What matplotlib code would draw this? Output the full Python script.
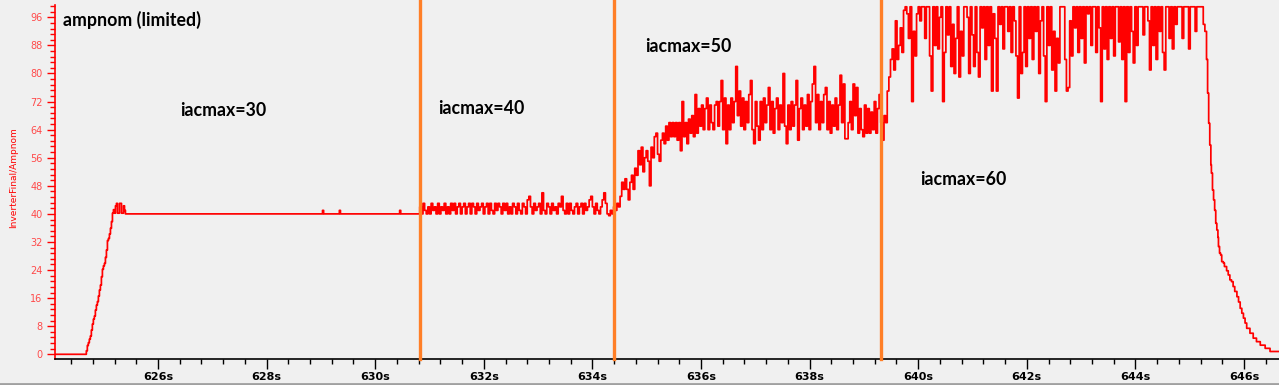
import matplotlib
matplotlib.use('Agg')
import matplotlib.pyplot as plt
import numpy as np
from matplotlib.ticker import MultipleLocator, FuncFormatter
from matplotlib.lines import Line2D

# ---------------- data ----------------
zero_t = [624.10]
zero_v = [0.0]

rise_t0, rise_dt = 624.68, 0.0185
rise_v = [1.0, 2.5, 3.3, 4.3, 5.2, 6.9, 8.6, 10.0, 10.9, 12.6, 14.0, 15.0, 16.6, 18.3,
          19.7, 22.1, 24.2, 25.2, 25.9, 27.6, 29.7, 32.4, 33.0, 34.3, 35.9, 37.8, 40.2,
          41.2, 40.2, 42.3, 43.0, 40.2, 40.2, 43.0, 43.0, 40.2, 40.2, 42.3, 41.0]

flat_t = [625.40, 629.03, 629.05, 629.34, 629.36, 630.45, 630.47]
flat_v = [40, 41, 40, 41, 40, 41, 40]

n40_t0, n40_dt = 630.82, 0.03
n40_v = [42, 40, 43, 41, 40, 42, 40, 43, 41, 42,
         40, 43, 40, 42, 41, 43, 40, 42, 40, 43,
         41, 43, 40, 42, 43, 40, 42, 43, 40, 42,
         43, 40, 43, 42, 40, 43, 41, 42, 43, 40,
         42, 43, 40, 43, 41, 40, 43, 41, 43, 42,
         40, 43, 41, 43, 40, 42, 40, 43, 42, 40,
         43, 41, 40, 43, 42, 40, 44, 45, 42, 40,
         43, 41, 42, 43, 40, 46, 41, 40, 43, 42,
         40, 43, 41, 42, 40, 43, 42, 45, 41, 40,
         43, 40, 43, 41, 40, 42, 43, 40, 42, 43,
         40, 43, 41, 42, 44, 45, 42, 40, 43, 41,
         40, 42, 44, 46, 43, 40, 39.5, 41, 40, 42]

n50_t0, n50_dt = 634.42, 0.03
n50_v = [41, 43, 42, 45, 49, 47, 50, 47, 44, 49,
         51, 47, 53, 51, 58, 54, 59, 52, 56, 58,
         55, 48, 59, 56, 62, 63, 57, 55, 61, 63,
         60, 65, 61, 66, 62, 66, 62, 66, 61, 66,
         58, 72, 62, 66, 60, 67, 63, 68, 62, 74,
         63, 70, 65, 71, 64, 70, 73, 64, 71, 66,
         64, 71, 72, 65, 72, 78, 64, 73, 60, 71,
         64, 73, 66, 72, 82, 68, 75, 65, 73, 64,
         72, 66, 74, 78, 64, 60, 72, 65, 61, 72,
         64, 73, 66, 71, 76, 64, 72, 63, 70, 73,
         64, 71, 66, 80, 65, 60, 71, 64, 72, 65,
         71, 78, 61, 70, 73, 64, 71, 65, 74, 64,
         72, 77, 82, 66, 74, 64, 72, 66, 74, 76,
         64, 72, 63, 71, 65, 73, 64, 71, 79.5, 66,
         77, 61.4, 61.4, 66, 72, 64, 77, 68, 76, 63,
         70, 64, 62, 71, 63, 70, 63, 69, 64, 72,
         63, 70, 74]

n60_t0, n60_dt = 639.31, 0.03
n60_v = [66, 61, 68, 66, 75, 79, 84, 87, 81, 95,
         84, 88, 93, 86, 98, 99, 97, 90, 99, 72,
         92, 85, 97, 99, 95, 99, 99, 90, 99, 99,
         85, 75, 99, 88, 99, 87, 96, 99, 72, 86,
         99, 91, 99, 82, 94, 80, 90, 99, 79, 92,
         85, 99, 99, 96, 80, 99, 91, 82, 99, 86,
         79, 99, 93, 99, 84, 99, 88, 99, 75, 97,
         90, 75, 99, 94, 99, 87, 99, 99, 92, 99,
         86, 99, 95, 85, 73, 99, 80, 86, 99, 82,
         99, 90, 99, 84, 99, 92, 99, 80, 95, 99,
         85, 72, 99, 88, 99, 81, 92, 75, 90, 83,
         99, 99, 99, 84, 75, 76, 95, 85, 99, 93,
         99, 86, 99, 90, 99, 83, 99, 97, 99, 88,
         99, 99, 86, 99, 93, 72, 99, 87, 99, 84,
         99, 90, 99, 85, 99, 99, 89, 99, 84, 99,
         72, 99, 86, 99, 92, 83, 99, 88, 99, 99,
         99, 91, 99, 99, 95, 81, 99, 88, 99, 84,
         99, 92, 99, 86, 81, 99, 99, 90, 99, 87,
         99, 94, 99, 99, 99, 90, 99, 99, 99, 87,
         99, 99, 99, 92, 99, 99, 99, 99]

decay_t = [645.25, 645.28, 645.31, 645.33, 645.35, 645.37, 645.39, 645.40, 645.42,
           645.44, 645.46, 645.48, 645.50, 645.52, 645.53, 645.55, 645.57, 645.59,
           645.62, 645.64, 645.68, 645.71, 645.74, 645.77, 645.80, 645.83, 645.87,
           645.90, 645.93, 645.96, 645.99, 646.02, 646.05, 646.11, 646.17, 646.23,
           646.30, 646.39, 646.48, 646.645]
decay_v = [94, 92, 84, 74.4, 65.8, 59.6, 54, 51.6, 46.8, 44, 41, 37.3, 35.4, 33.3, 30.7,
           28.8, 28.3, 26.4, 26, 25, 23.8, 22.6, 21.2, 20.7, 19.3, 17.9, 16.4, 14.9,
           13.1, 11.7, 10.3, 8.9, 7.4, 6, 4.6, 3.6, 2.6, 1.7, 0.8, 0.8]

change_t = [630.82, 634.40, 639.31]
iacmax_labels = ["iacmax=30", "iacmax=40", "iacmax=50", "iacmax=60"]
title = "ampnom (limited)"
ylabel = "InverterFinal/Ampnom"

# ---------------- assemble series ----------------
def seg(t0, dt, vals):
    return list(t0 + dt * np.arange(len(vals))), list(vals)

parts = [(zero_t, zero_v), seg(rise_t0, rise_dt, rise_v), (flat_t, flat_v),
         seg(n40_t0, n40_dt, n40_v), seg(n50_t0, n50_dt, n50_v),
         seg(n60_t0, n60_dt, n60_v), (decay_t, decay_v)]
T = np.concatenate([np.asarray(p[0], float) for p in parts])
V = np.concatenate([np.asarray(p[1], float) for p in parts])

# ---------------- figure ----------------
W, H = 1279, 385
BG = '#f0f0f0'
fig = plt.figure(figsize=(W / 100, H / 100), dpi=100, facecolor=BG)
ax = fig.add_axes([55 / W, (H - 359) / H, (W - 55) / W, (359 - 5) / H])
ax.set_facecolor(BG)

ax.plot(T, V, drawstyle='steps-post', color='#ff0000', lw=1.25)

ax.set_xlim(624.103, 646.645)
ax.set_ylim(-1.34, 99.51)

for s in ['top', 'right']:
    ax.spines[s].set_visible(False)
ax.spines['left'].set_color('#ff0000')
ax.spines['left'].set_linewidth(1.2)
ax.spines['bottom'].set_color('black')
ax.spines['bottom'].set_linewidth(1.2)

ax.yaxis.set_major_locator(MultipleLocator(8))
ax.yaxis.set_minor_locator(MultipleLocator(1.6))
ax.xaxis.set_major_locator(MultipleLocator(2))
ax.xaxis.set_minor_locator(MultipleLocator(0.4))
ax.xaxis.set_major_formatter(FuncFormatter(lambda x, p: f"{x:.0f}s"))
ax.yaxis.set_major_formatter(FuncFormatter(lambda y, p: f"{y:.0f}"))

ax.tick_params(axis='y', which='major', colors='#ff0000', labelcolor='#ff4a4a',
               length=6, width=1, labelsize=7, pad=3)
ax.tick_params(axis='y', which='minor', colors='#ff0000', length=3.5, width=1)
ax.tick_params(axis='x', which='major', colors='black', length=7, width=1,
               labelsize=8, pad=2)
ax.tick_params(axis='x', which='minor', colors='black', length=3.5, width=1)
for lab in ax.get_xticklabels():
    lab.set_fontweight('bold')

# orange change markers
for t in change_t:
    ax.axvline(t, ymin=0.0, ymax=1.01, color='#ff7f27', lw=2.4, clip_on=False, zorder=3)

# annotations
fkw = dict(family='Lato', fontweight='bold', fontsize=12.8, color='black',
           va='center', ha='left')
fig.text(63 / W, 1 - 20 / H, title, **fkw)
label_pos = [(180, 111), (438, 108), (645, 47), (920, 180)]
for (px, py), txt in zip(label_pos, iacmax_labels):
    fig.text(px / W, 1 - py / H, txt, **fkw)

fig.text(14 / W, 1 - 178 / H, ylabel, rotation=90, color='#ff0000', fontsize=6.5,
         va='center', ha='center')

# window border at bottom
fig.add_artist(Line2D([0, 1], [1.5 / H, 1.5 / H], color='#a0a0a0', lw=2,
                      transform=fig.transFigure))

fig.savefig('out.png', dpi=100, facecolor=BG)
